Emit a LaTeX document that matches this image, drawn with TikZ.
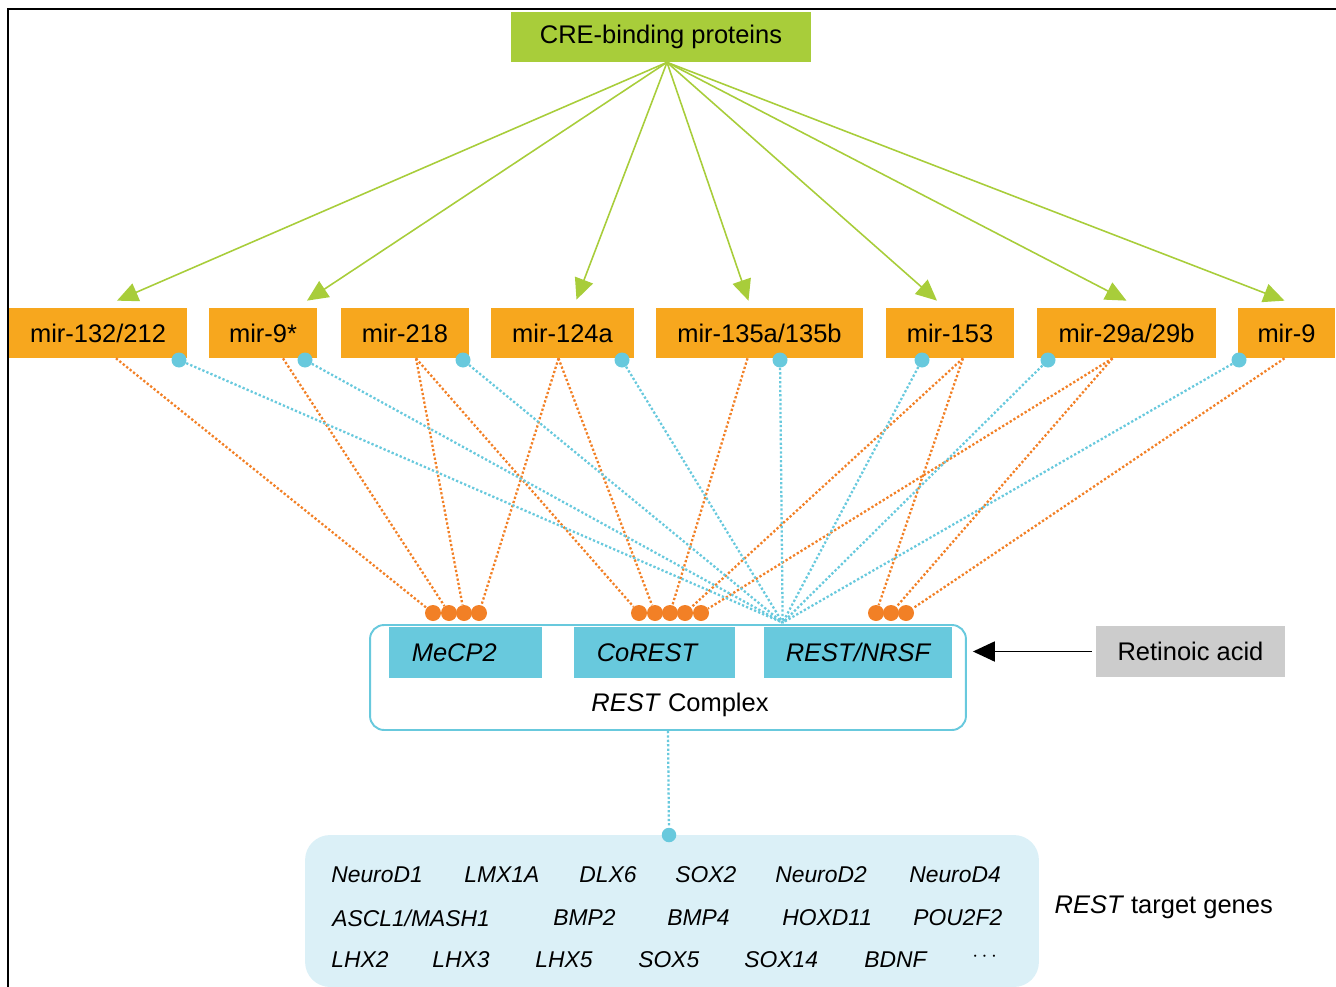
\documentclass[tikz,border=0pt]{standalone}
\usepackage{fontspec}
\setmainfont{Liberation Sans}
\usetikzlibrary{arrows.meta, positioning, calc}
\definecolor{MirOrange}{RGB}{247, 167, 30}
\definecolor{DotOrange}{RGB}{242, 128, 38}
\definecolor{CreGreen}{RGB}{168, 205, 58}
\definecolor{RestBlue}{RGB}{104, 201, 221}
\definecolor{GeneBlue}{RGB}{219, 240, 247}
\definecolor{AcidGray}{RGB}{204, 204, 204}

\begin{document}
\begin{tikzpicture}[x=0.02cm, y=-0.02cm,
        every node/.style={inner sep=0pt, font=\fontsize{14.5}{17}\selectfont},
        mir/.style={rectangle, fill=MirOrange, minimum height=1cm},
        unit/.style={rectangle, fill=RestBlue, minimum height=1.02cm, font=\fontsize{14.5}{17}\selectfont\itshape},
        odot/.style={circle, fill=DotOrange, minimum size=0.32cm},
        bdot/.style={circle, fill=RestBlue, minimum size=0.3cm},
        oline/.style={DotOrange, line width=1.3pt, dash pattern=on 1.3pt off 1.2pt},
        bline/.style={RestBlue, line width=1.3pt, dash pattern=on 1.3pt off 1.2pt},
        garrow/.style={-{Triangle[length=0.42cm, width=0.38cm]}, CreGreen, line width=0.9pt},
        gene/.style={anchor=west, font=\fontsize{13}{15}\selectfont\itshape}
    ]
        \useasboundingbox (0,0) rectangle (1336,987);
        \draw[line width=0.6pt] (8,987) |- (1336,9);

        % CRE-binding proteins and the miRNAs
        \node[fill=CreGreen, minimum width=6cm, minimum height=1cm] (cre) at (661,37) {CRE-binding proteins};
        \node[mir, minimum width=3.56cm] (m132) at (98,333) {mir-132/212};
        \node[mir, minimum width=2.16cm] (m9s) at (263,333) {mir-9*};
        \node[mir, minimum width=2.56cm] (m218) at (405,333) {mir-218};
        \node[mir, minimum width=2.86cm] (m124) at (562.5,333) {mir-124a};
        \node[mir, minimum width=4.14cm] (m135) at (759.5,333) {mir-135a/135b};
        \node[mir, minimum width=2.56cm] (m153) at (950,333) {mir-153};
        \node[mir, minimum width=3.58cm] (m29) at (1126.5,333) {mir-29a/29b};
        \node[mir, minimum width=1.94cm] (m9) at (1286.5,333) {mir-9};

        \coordinate (crefoot) at ($(cre.south)+(6,0)$);
        \draw[garrow] (crefoot) -- ($(m132.north)+(19,-7)$);
        \draw[garrow] (crefoot) -- ($(m9s.north)+(44,-7)$);
        \draw[garrow] (crefoot) -- ($(m124.north)+(14,-8)$);
        \draw[garrow] (crefoot) -- ($(m135.north)+(-11,-7)$);
        \draw[garrow] (crefoot) -- ($(m153.north)+(-13,-7)$);
        \draw[garrow] (crefoot) -- ($(m29.north)+(0,-7)$);
        \draw[garrow] (crefoot) -- ($(m9.north)+(-2,-7)$);

        % REST complex
        \node[draw=RestBlue, line width=1.1pt, rounded corners=0.28cm, minimum width=11.92cm, minimum height=2.1cm] (complex) at (668,677.5) {};
        \node[unit, minimum width=3.06cm] (mecp) at (465.5,652.5) {\hspace*{-0.45cm}MeCP2};
        \node[unit, minimum width=3.22cm] (corest) at (654.5,652.5) {\hspace*{-0.3cm}CoREST};
        \node[unit, minimum width=3.76cm] (rest) at (858,652.5) {REST/NRSF};
        \node (cplxlabel) at (680,705) {\textit{REST} Complex};
        \coordinate (hub) at ($(rest.north west)+(19,-4)$);

        % binding sites
        \node[odot] (dm1) at (433,613) {};
        \node[odot] (dm2) at (449,613) {};
        \node[odot] (dm3) at (464,613) {};
        \node[odot] (dm4) at (479,613) {};
        \node[odot] (dc1) at (639,613) {};
        \node[odot] (dc2) at (655,613) {};
        \node[odot] (dc3) at (670,613) {};
        \node[odot] (dc4) at (685,613) {};
        \node[odot] (dc5) at (701,613) {};
        \node[odot] (dr1) at (876,613) {};
        \node[odot] (dr2) at (891,613) {};
        \node[odot] (dr3) at (906,613) {};

        \node[bdot] (b132) at (179,360) {};
        \node[bdot] (b9s) at (305,360) {};
        \node[bdot] (b218) at (463,360) {};
        \node[bdot] (b124) at (622,360) {};
        \node[bdot] (b135) at (780,360) {};
        \node[bdot] (b153) at (922,360) {};
        \node[bdot] (b29) at (1048,360) {};
        \node[bdot] (b9) at (1239,360) {};

        % orange: miRNA -> subunit
        \draw[oline] ($(m132.south)+(18,0)$) -- (dm1);
        \draw[oline] ($(m9s.south)+(20,0)$) -- (dm2);
        \draw[oline] ($(m218.south)+(11,0)$) -- (dm3);
        \draw[oline] ($(m218.south)+(11,0)$) -- (dc1);
        \draw[oline] ($(m124.south)+(-4,0)$) -- (dm4);
        \draw[oline] ($(m124.south)+(-4,0)$) -- (dc2);
        \draw[oline] ($(m135.south)+(-12,0)$) -- (dc3);
        \draw[oline] ($(m153.south)+(13,0)$) -- (dc4);
        \draw[oline] ($(m153.south)+(13,0)$) -- (dr1);
        \draw[oline] ($(m29.south)+(-14,0)$) -- (dc5);
        \draw[oline] ($(m29.south)+(-14,0)$) -- (dr2);
        \draw[oline] ($(m9.south)+(-2,0)$) -- (dr3);

        % blue: miRNA -> REST/NRSF
        \draw[bline] (b132) -- (hub);
        \draw[bline] (b9s) -- (hub);
        \draw[bline] (b218) -- (hub);
        \draw[bline] (b124) -- (hub);
        \draw[bline] (b135) -- (hub);
        \draw[bline] (b153) -- (hub);
        \draw[bline] (b29) -- (hub);
        \draw[bline] (b9) -- (hub);

        % Retinoic acid
        \node[fill=AcidGray, minimum width=3.78cm, minimum height=1.02cm] (acid) at (1190.5,651.5) {Retinoic acid};
        \draw[-{Triangle[length=0.44cm, width=0.4cm]}, line width=1.1pt, shorten <=0.08cm, shorten >=0.12cm] (acid.west) -- (acid.west -| complex.east);

        % target genes
        \node[fill=GeneBlue, rounded corners=0.5cm, minimum width=14.68cm, minimum height=3.04cm] (genes) at (672,911) {};
        \node[bdot, minimum size=0.29cm] (gdot) at (669,835) {};
        \draw[bline] (complex.south) -- (gdot);
        \node[right=0.3cm of genes, yshift=0.08cm] (targets) {\textit{REST} target genes};

        \node[gene] (g11) at (331,875) {NeuroD1};
        \node[gene] (g12) at (464,875) {LMX1A};
        \node[gene] (g13) at (579,875) {DLX6};
        \node[gene] (g14) at (675,875) {SOX2};
        \node[gene] (g15) at (775,875) {NeuroD2};
        \node[gene] (g16) at (909,875) {NeuroD4};
        \node[gene] (g21) at (332,918) {ASCL1/MASH1};
        \node[gene] (g22) at (553,918) {BMP2};
        \node[gene] (g23) at (667,918) {BMP4};
        \node[gene] (g24) at (782,918) {HOXD11};
        \node[gene] (g25) at (913,918) {POU2F2};
        \node[gene] (g31) at (331,960) {LHX2};
        \node[gene] (g32) at (432,960) {LHX3};
        \node[gene] (g33) at (535,960) {LHX5};
        \node[gene] (g34) at (638,960) {SOX5};
        \node[gene] (g35) at (744,960) {SOX14};
        \node[gene] (g36) at (864,960) {BDNF};
        \node[gene] (g37) at (972,957) {$\cdots$};
    \end{tikzpicture}
\end{document}
